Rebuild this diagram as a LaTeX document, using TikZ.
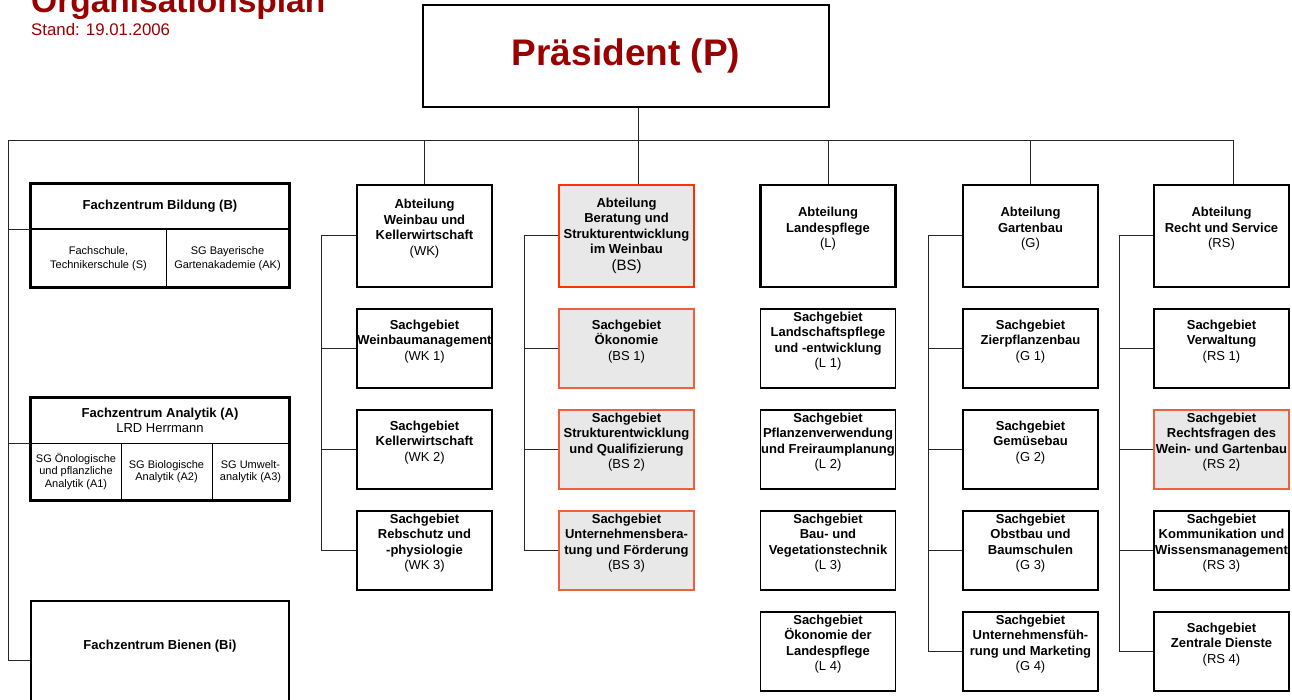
\documentclass[tikz,border=0pt]{standalone}
\usepackage{fontspec}
\setmainfont{Liberation Sans}
\usepackage{xcolor}
\usepackage{tikz}

\definecolor{presred}{RGB}{153,0,0}
\definecolor{bsorange}{RGB}{255,51,0}
\definecolor{bssub}{RGB}{238,96,60}
\definecolor{bsgray}{RGB}{232,232,232}

\begin{document}
\begin{tikzpicture}[x=1pt, y=-1pt,
    conn/.style={line width=1pt, black!85},
    abt/.style={draw, line width=2.6pt, minimum width=135pt, minimum height=102pt, inner sep=0pt, align=center, font=\fontsize{13}{15.5}\selectfont\bfseries, text depth=17pt},
    sg/.style={draw, line width=1.6pt, minimum width=135pt, minimum height=79pt, inner sep=0pt, align=center, font=\fontsize{13}{15.5}\selectfont\bfseries, text depth=17pt},
    hl/.style={fill=bsgray, draw=bssub},
    fz/.style={draw, line width=1pt, inner sep=0pt, align=center, minimum height=57pt, font=\fontsize{11}{12.5}\selectfont},
    fzhead/.style={draw, line width=1pt, inner sep=0pt, align=center, minimum width=258pt, minimum height=45pt, font=\fontsize{13}{15.5}\selectfont}]

        \useasboundingbox (0,0) rectangle (1292,700);

        % Title
        \node[anchor=base west, inner sep=0pt, text=presred, font=\fontsize{33.5}{36}\selectfont\bfseries] (title) at (31,13) {Organisationsplan};
        \node[anchor=base west, inner sep=0pt, text=presred, font=\fontsize{16.8}{18}\selectfont] (stand) at (31,36) {Stand: 19.01.2006};

        % President
        \node[draw, line width=2.6pt, minimum width=406pt, minimum height=102pt, text=presred, font=\fontsize{37}{40}\selectfont\bfseries] (pres) at (626,56) {Präsident (P)};

        % Fachzentren (left)
        \node[fzhead, font=\fontsize{13}{15.5}\selectfont\bfseries] (fb) at (160,206.5) {Fachzentrum Bildung (B)};
        \node[fz, minimum width=135pt, font=\fontsize{11}{14}\selectfont] (fbs) at (98.5,258.5) {Fachschule,\\Technikerschule (S)};
        \node[fz, minimum width=123pt, font=\fontsize{11}{14}\selectfont] (fbak) at (227.5,258.5) {SG Bayerische\\Gartenakademie (AK)};
        \draw[line width=2.6pt] (fb.north west) rectangle (fbak.south east);

        \node[fzhead] (fa) at (160,420.5) {\textbf{Fachzentrum Analytik (A)}\\LRD Herrmann};
        \node[fz, minimum width=90pt] (fa1) at (76,471.5) {SG Önologische\\und pflanzliche\\Analytik (A1)};
        \node[fz, minimum width=91pt] (fa2) at (166.5,471.5) {SG Biologische\\Analytik (A2)};
        \node[fz, minimum width=77pt] (fa3) at (250.5,471.5) {SG Umwelt-\\analytik (A3)};
        \draw[line width=2.6pt] (fa.north west) rectangle (fa3.south east);

        \node[draw, line width=2.6pt, minimum width=258pt, minimum height=118pt, font=\fontsize{13}{15.5}\selectfont\bfseries, text depth=31pt] (fbi) at (160,660) {Fachzentrum Bienen (Bi)};

        % Abteilungen
        \node[abt] (wk) at (424.5,236) {Abteilung\\Weinbau und\\Kellerwirtschaft\\\textmd{(WK)}};
        \node[abt, fill=bsgray, draw=bsorange, text depth=4pt] (bs) at (626.5,236) {Abteilung\\Beratung und\\Strukturentwicklung\\im Weinbau\\[1pt]{\mdseries\fontsize{15}{17}\selectfont (BS)}};
        \node[abt] (l) at (828,236) {Abteilung\\Landespflege\\\textmd{(L)}};
        \node[abt] (g) at (1030.5,236) {Abteilung\\Gartenbau\\\textmd{(G)}};
        \node[abt] (rs) at (1221.5,236) {Abteilung\\Recht und Service\\\textmd{(RS)}};

        % Sachgebiete WK
        \node[sg] (wk1) at (424.5,348.5) {Sachgebiet\\Weinbaumanagement\\\textmd{(WK 1)}};
        \node[sg] (wk2) at (424.5,449.5) {Sachgebiet\\Kellerwirtschaft\\\textmd{(WK 2)}};
        \node[sg] (wk3) at (424.5,550.5) {Sachgebiet\\Rebschutz und\\-physiologie\\\textmd{(WK 3)}};

        % Sachgebiete BS
        \node[sg, hl] (bs1) at (626.5,348.5) {Sachgebiet\\Ökonomie\\\textmd{(BS 1)}};
        \node[sg, hl] (bs2) at (626.5,449.5) {Sachgebiet\\Strukturentwicklung\\und Qualifizierung\\\textmd{(BS 2)}};
        \node[sg, hl] (bs3) at (626.5,550.5) {Sachgebiet\\Unternehmensbera-\\tung und Förderung\\\textmd{(BS 3)}};

        % Sachgebiete L
        \node[sg] (l1) at (828,348.5) {Sachgebiet\\Landschaftspflege\\und -entwicklung\\\textmd{(L 1)}};
        \node[sg] (l2) at (828,449.5) {Sachgebiet\\Pflanzenverwendung\\und Freiraumplanung\\\textmd{(L 2)}};
        \node[sg] (l3) at (828,550.5) {Sachgebiet\\Bau- und\\Vegetationstechnik\\\textmd{(L 3)}};
        \node[sg] (l4) at (828,651.5) {Sachgebiet\\Ökonomie der\\Landespflege\\\textmd{(L 4)}};

        % Sachgebiete G
        \node[sg] (g1) at (1030.5,348.5) {Sachgebiet\\Zierpflanzenbau\\\textmd{(G 1)}};
        \node[sg] (g2) at (1030.5,449.5) {Sachgebiet\\Gemüsebau\\\textmd{(G 2)}};
        \node[sg] (g3) at (1030.5,550.5) {Sachgebiet\\Obstbau und\\Baumschulen\\\textmd{(G 3)}};
        \node[sg] (g4) at (1030.5,651.5) {Sachgebiet\\Unternehmensfüh-\\rung und Marketing\\\textmd{(G 4)}};

        % Sachgebiete RS
        \node[sg] (rs1) at (1221.5,348.5) {Sachgebiet\\Verwaltung\\\textmd{(RS 1)}};
        \node[sg, hl] (rs2) at (1221.5,449.5) {Sachgebiet\\Rechtsfragen des\\Wein- und Gartenbau\\\textmd{(RS 2)}};
        \node[sg] (rs3) at (1221.5,550.5) {Sachgebiet\\Kommunikation und\\Wissensmanagement\\\textmd{(RS 3)}};
        \node[sg] (rs4) at (1221.5,651.5) {Sachgebiet\\Zentrale Dienste\\\textmd{(RS 4)}};

        % Main bus
        \coordinate (bus) at (8,141);
        \draw[conn] ([xshift=12pt]pres.south) -- ([xshift=11.5pt]bs.north);
        \draw[conn] (fbi.west) -| (bus) -| ([xshift=11.5pt]rs.north);
        \foreach \n in {wk,l,g} \draw[conn] (bus -| \n.north) -- (\n.north);
        \draw[conn] (fb.south west) -- (fb.south west -| bus);
        \draw[conn] (fa.south west) -- (fa.south west -| bus);

        % Brackets to Sachgebiete
        \draw[conn] (wk.west) -- ++(-34,0) |- (wk3.west);
        \foreach \n in {wk1,wk2} \draw[conn] (\n.west) -- ++(-34,0);
        \draw[conn] (bs.west) -- ++(-33,0) |- (bs3.west);
        \foreach \n in {bs1,bs2} \draw[conn] (\n.west) -- ++(-33,0);
        \draw[conn] (g.west) -- ++(-33,0) |- (g4.west);
        \foreach \n in {g1,g2,g3} \draw[conn] (\n.west) -- ++(-33,0);
        \draw[conn] (rs.west) -- ++(-33,0) |- (rs4.west);
        \foreach \n in {rs1,rs2,rs3} \draw[conn] (\n.west) -- ++(-33,0);

\end{tikzpicture}
\end{document}
